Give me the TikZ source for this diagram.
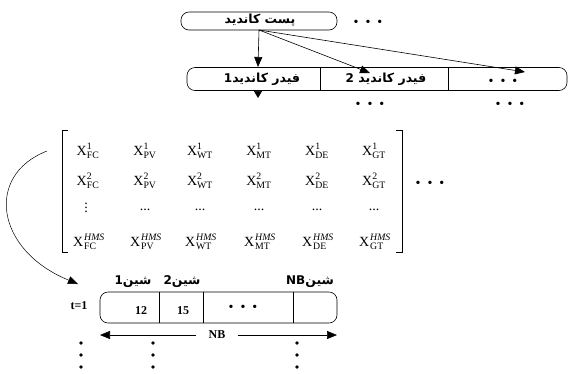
\documentclass[tikz,border=0pt]{standalone}
\usepackage{fontspec}
\usepackage{amsmath}
\setmainfont{Liberation Serif}
\newfontfamily\fa[Script=Arabic, BoldFont={DejaVu Sans Bold}]{DejaVu Sans}
\TeXXeTstate=1
\usetikzlibrary{arrows.meta}
\begin{document}
\begin{tikzpicture}[x=1pt,y=-1pt,
  fa/.style={font=\fa\bfseries\fontsize{12.5}{13}\selectfont, inner sep=0pt},
  lat/.style={font=\bfseries\fontsize{12}{12}\selectfont, inner sep=0pt},
  mx/.style={font=\fontsize{14}{14}\selectfont, anchor=base, inner sep=0pt},
  rbox/.style={draw, rounded corners=8pt, inner sep=0pt},
  arr/.style={-{Triangle[length=10pt,width=8pt]}},
  dotsrow/.style={font=\fontsize{14}{14}\selectfont, inner sep=0pt},
  vdot/.style={fill, circle, inner sep=0pt, minimum size=3.6pt},
  line width=0.6pt]
\useasboundingbox (0,0) rectangle (570,373);

% top candidate substation box
\node[rbox, minimum width=156pt, minimum height=18pt] (post) at (259,21) {};
\node[fa] (postt) at (260,20) {\beginR پست کاندید\endR};
\node[dotsrow] (topdots) at (368,23) {•\hspace{7pt}•\hspace{7pt}•};

% feeder row
\node[rbox, minimum width=380pt, minimum height=23pt] (row) at (377,79) {};
\draw (320,67.5) -- (320,90.5);
\draw (448,67.5) -- (448,90.5);
\node[fa] (f1) at (262,79) {\beginR{\fa\bfseries فیدر کاندید}{\bfseries\fontsize{12}{12}\selectfont 1}\endR};
\node[fa] (f2) at (386,79) {\beginR{\fa\bfseries فیدر کاندید} {\bfseries\fontsize{12}{12}\selectfont 2}\endR};
\node[dotsrow] (f3) at (503,82) {•\hspace{7pt}•\hspace{7pt}•};
\node[dotsrow] (f2d) at (370,105) {•\hspace{7pt}•\hspace{7pt}•};
\node[dotsrow] (f3d) at (510,105) {•\hspace{7pt}•\hspace{7pt}•};

\coordinate (a1) at (258,67);
\coordinate (a2) at (370,73);
\coordinate (a3) at (525,72);
\coordinate (s) at (259,30);
\draw[arr] (s) -- (a1);
\draw[arr] (s) -- (a2);
\draw[arr] (s) -- (a3);
\coordinate (b0) at (258,90);
\coordinate (b1) at (258,98);
\draw[-{Triangle[length=7pt,width=8pt]}] (b0) -- (b1);

% matrix
\draw (68,130) -- (62,130) -- (62,252) -- (68,252);
\draw (396,130) -- (402,130) -- (402,252) -- (396,252);
\foreach \c/\x in {FC/88,PV/145,WT/200,MT/259,DE/317,GT/374}{
  \node[mx] (m1\c) at (\x,155) {X$^{\text{1}}_{\text{\c}}$};
  \node[mx] (m2\c) at (\x,185) {X$^{\text{2}}_{\text{\c}}$};
  \node[mx] (m4\c) at (\x+1,246) {X\kern1pt$^{\textit{HMS}}_{\text{\c}}$};
}
\node[mx] (m3FC) at (86,212) {$\vdots$};
\foreach \c/\x in {PV/145,WT/200,MT/259,DE/317,GT/374}{
  \node[mx] (m3\c) at (\x,210) {...};
}
\node[dotsrow] (mdots) at (430,184) {•\hspace{7pt}•\hspace{7pt}•};

% curved arrow
\coordinate (c0) at (47,151);
\coordinate (c1) at (78,284);
\draw[arr, line width=0.5pt] (c0) .. controls (-15,175) and (-5,250) .. (c1);

% bus row
\node[rbox, minimum width=237pt, minimum height=31pt] (bus) at (218.5,307.5) {};
\draw (159,292) -- (159,323);
\draw (203,292) -- (203,323);
\draw (293,292) -- (293,323);
\node[lat] (v1) at (141,311) {12};
\node[lat] (v2) at (183,311) {15};
\node[dotsrow] (v3) at (243,308) {•\hspace{7pt}•\hspace{7pt}•};
\node[lat] (t1) at (79,306) {t=1};
\node[fa] (b1l) at (133,282) {\beginR{\fa\bfseries شین}{\bfseries\fontsize{12}{12}\selectfont 1}\endR};
\node[fa] (b2l) at (182,282) {\beginR{\fa\bfseries شین}{\bfseries\fontsize{12}{12}\selectfont 2}\endR};
\node[fa] (bnl) at (310,282) {\beginR{\fa\bfseries شین}\beginL{\bfseries\fontsize{12}{12}\selectfont NB}\endL\endR};

% NB arrow
\node[lat, fill=white, inner xsep=12pt] (nb) at (217,335) {NB};
\coordinate (nbl) at (100,335);
\coordinate (nbr) at (337,335);
\draw[arr] (nb.west) -- (nbl);
\draw[arr] (nb.east) -- (nbr);

% vertical dots
\foreach \x/\n in {81/a,153/b,297/c}{
  \node[vdot] (d1\n) at (\x,343) {};
  \node[vdot] (d2\n) at (\x,355) {};
  \node[vdot] (d3\n) at (\x,367) {};
}
\end{tikzpicture}
\end{document}
